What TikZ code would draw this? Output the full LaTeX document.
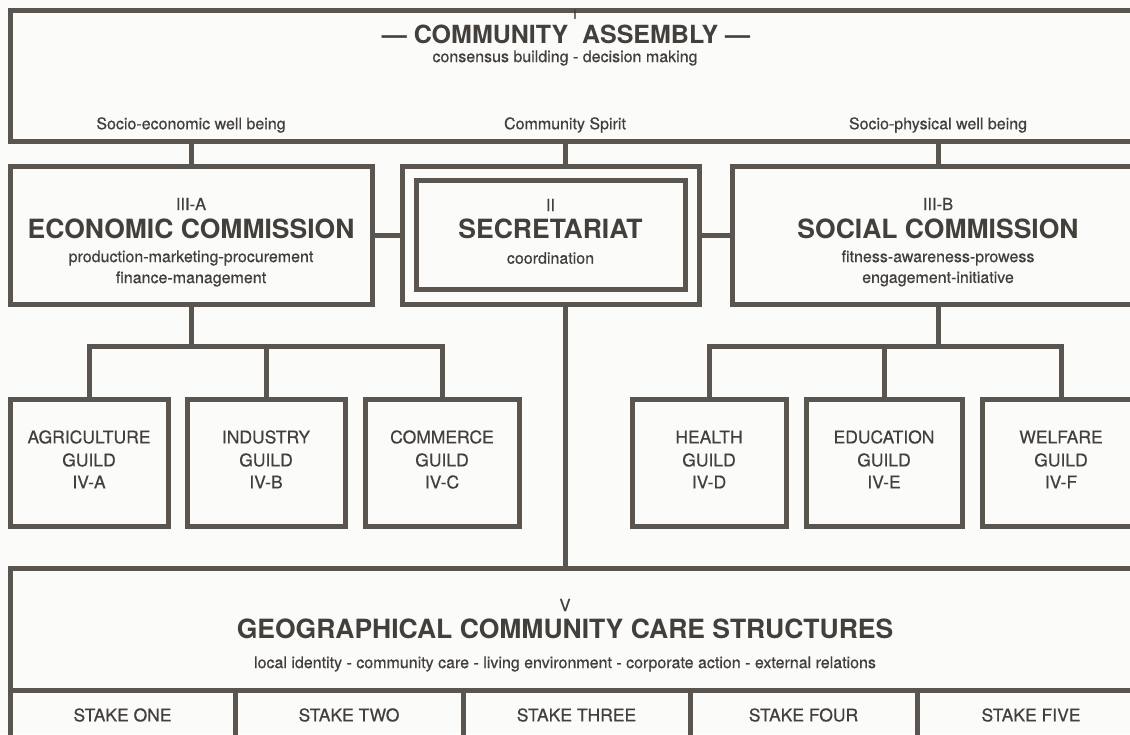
\documentclass[tikz,border=0pt]{standalone}
\usepackage{fontspec}
\setmainfont{TeX Gyre Heros}
\newfontfamily\midfont{TeX Gyre Heros}[FakeBold=0.5]
\definecolor{ink}{HTML}{5A554F}
\definecolor{txt}{HTML}{433F3A}
\definecolor{paper}{HTML}{FBFBF9}
\begin{document}
\begin{tikzpicture}[x=1pt,y=-1pt,
  frame/.style={rectangle,draw=ink,line width=5pt,inner sep=0pt,outer sep=0pt},
  wire/.style={draw=ink,line width=5pt},
  small/.style={text=txt,inner sep=0pt,font=\midfont\fontsize{16}{16}\selectfont},
  num/.style={text=txt,inner sep=0pt,font=\midfont\fontsize{16.5}{16.5}\selectfont},
  head/.style={text=txt,inner sep=0pt,font=\fontsize{26.5}{26.5}\selectfont\bfseries},
  guildtxt/.style={text=txt,inner sep=0pt,font=\midfont\fontsize{17.5}{17.5}\selectfont},
  staketxt/.style={text=txt,inner sep=0pt,font=\midfont\fontsize{17.5}{17.5}\selectfont}]
\fill[paper] (0,0) rectangle (1130,734);
\useasboundingbox (0,0) rectangle (1130,734);

% I -- community assembly
\node[frame,minimum width=1135pt,minimum height=131pt] (asm) at (577.5,75.5) {};
\node[num,font=\midfont\fontsize{13}{13}\selectfont] (asmnum) at (575,14) {I};
\node[head,font=\fontsize{25}{25}\selectfont\bfseries] (asmtitle) at (566,34) {— COMMUNITY\ \ ASSEMBLY —};
\node[small] (asmsub) at (565,58) {consensus building - decision making};
\node[small] (wellecon) at (191,125) {Socio-economic well being};
\node[small] (spirit) at (565,125) {Community Spirit};
\node[small] (wellphys) at (938,125) {Socio-physical well being};

% II and III -- commissions and secretariat
\node[frame,minimum width=362pt,minimum height=138pt] (econ) at (191,235) {};
\node[frame,minimum width=297pt,minimum height=138pt] (sec) at (550.5,235) {};
\node[frame,minimum width=269pt,minimum height=109pt] (secin) at (550.5,235) {};
\node[frame,minimum width=413pt,minimum height=138pt] (soc) at (938.5,235) {};

\node[num] (econnum) at (191,204) {III-A};
\node[head] (econtitle) at (191,229) {ECONOMIC COMMISSION};
\node[small] (econl1) at (191,258) {production-marketing-procurement};
\node[small] (econl2) at (191,279) {finance-management};

\node[num] (secnum) at (550.5,205) {II};
\node[head] (sectitle) at (550.5,229) {SECRETARIAT};
\node[small] (secl1) at (550.5,258) {coordination};

\node[num] (socnum) at (938,204) {III-B};
\node[head] (soctitle) at (938,229) {SOCIAL COMMISSION};
\node[small] (socl1) at (938,258) {fitness-awareness-prowess};
\node[small] (socl2) at (938,279) {engagement-initiative};

% IV -- guilds
\node[frame,minimum width=158pt,minimum height=127pt] (ga) at (89,462.5) {};
\node[frame,minimum width=158pt,minimum height=127pt] (gb) at (266,462.5) {};
\node[frame,minimum width=154pt,minimum height=127pt] (gc) at (442,462.5) {};
\node[frame,minimum width=154pt,minimum height=127pt] (gd) at (709,462.5) {};
\node[frame,minimum width=156pt,minimum height=127pt] (ge) at (884,462.5) {};
\node[frame,minimum width=158pt,minimum height=127pt] (gf) at (1061,462.5) {};

\foreach \g/\x/\name/\code in {ga/89/AGRICULTURE/IV-A, gb/266/INDUSTRY/IV-B, gc/442/COMMERCE/IV-C,
                               gd/709/HEALTH/IV-D, ge/884/EDUCATION/IV-E, gf/1061/WELFARE/IV-F}{
  \node[guildtxt] (\g n) at (\x,437) {\name};
  \node[guildtxt] (\g g) at (\x,460) {GUILD};
  \node[guildtxt] (\g c) at (\x,482) {\code};
}

% V -- geographical structures and stakes
\node[frame,minimum width=1135pt,minimum height=180pt] (geo) at (577.5,658) {};
\node[num] (geonum) at (565,605) {V};
\node[head] (geotitle) at (565,629) {GEOGRAPHICAL COMMUNITY CARE STRUCTURES};
\node[small] (geosub) at (565,664) {local identity - community care - living environment - corporate action - external relations};

\node[frame,minimum width=225pt,minimum height=60pt] (s1) at (122.5,720) {};
\node[frame,minimum width=228pt,minimum height=60pt] (s2) at (349,720) {};
\node[frame,minimum width=227pt,minimum height=60pt] (s3) at (576.5,720) {};
\node[frame,minimum width=227pt,minimum height=60pt] (s4) at (803.5,720) {};
\node[frame,minimum width=228pt,minimum height=60pt] (s5) at (1031,720) {};
\node[staketxt] (s1t) at (122.5,715) {STAKE ONE};
\node[staketxt] (s2t) at (349,715) {STAKE TWO};
\node[staketxt] (s3t) at (576.5,715) {STAKE THREE};
\node[staketxt] (s4t) at (803.5,715) {STAKE FOUR};
\node[staketxt] (s5t) at (1031,715) {STAKE FIVE};

% connectors
\coordinate (trunk) at (565,141);
\coordinate (ebar) at (0,346);
\draw[wire] (econ.north) -- (econ.north |- asm.south);
\draw[wire] (trunk) -- (trunk |- sec.north);
\draw[wire] (soc.north) -- (soc.north |- asm.south);
\draw[wire] (econ.east) -- (sec.west);
\draw[wire] (sec.east) -- (soc.west);
\draw[wire] (trunk |- sec.south) -- (trunk |- geo.north);

\draw[wire] (econ.south) -- (econ.south |- ebar);
\draw[wire] (ga.north) -- (ga.north |- ebar) -- (gc.north |- ebar) -- (gc.north);
\draw[wire] (gb.north) -- (gb.north |- ebar);

\draw[wire] (soc.south) -- (soc.south |- ebar);
\draw[wire] (gd.north) -- (gd.north |- ebar) -- (gf.north |- ebar) -- (gf.north);
\draw[wire] (ge.north) -- (ge.north |- ebar);
\end{tikzpicture}
\end{document}
